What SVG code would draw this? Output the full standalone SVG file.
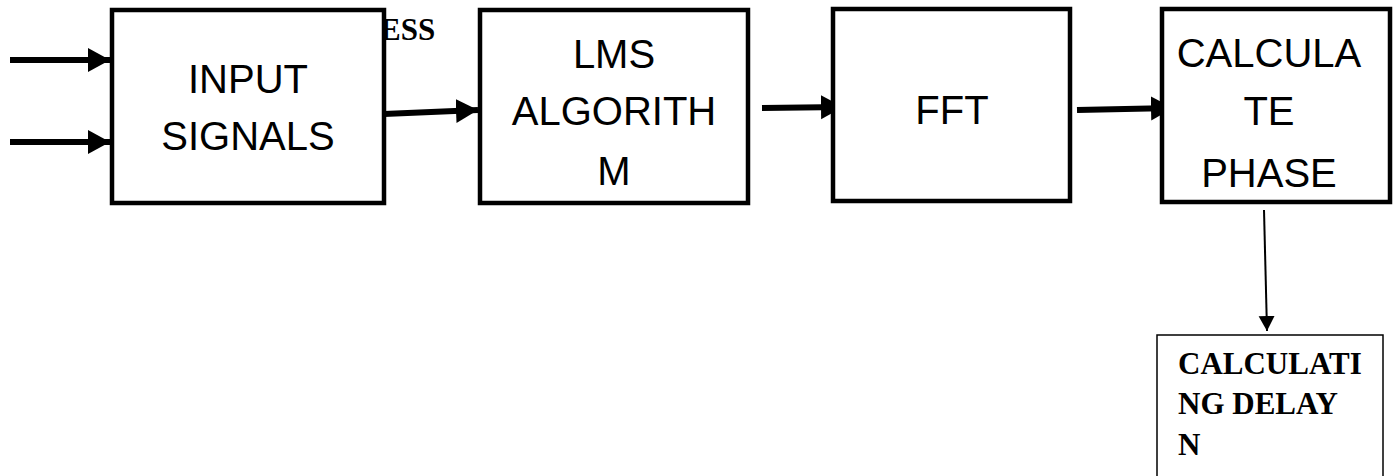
<svg xmlns="http://www.w3.org/2000/svg" width="1399" height="476" viewBox="0 0 1399 476">
  <style>
    .box { fill: #fff; stroke: #000; stroke-width: 4.5; }
    .thin { fill: #fff; stroke: #000; stroke-width: 1.5; }
    .lbl { font-family: "Liberation Sans", Arial, sans-serif; font-size: 40px; fill: #000; text-anchor: middle; }
    .bold { font-family: "Liberation Serif", "Times New Roman", serif; font-weight: bold; font-size: 31px; fill: #000; }
    .thick { stroke: #000; stroke-width: 6; fill: none; marker-end: url(#head); }
    .fine { stroke: #000; stroke-width: 2; fill: none; marker-end: url(#headSmall); }
  </style>
  <defs>
    <marker id="head" markerUnits="userSpaceOnUse" markerWidth="24" markerHeight="26" refX="22" refY="12" orient="auto">
      <path d="M0,0 L22,12 L0,24 Z" fill="#000"/>
    </marker>
    <marker id="headSmall" markerUnits="userSpaceOnUse" markerWidth="18" markerHeight="18" refX="15" refY="8" orient="auto">
      <path d="M0,0 L15,8 L0,16 Z" fill="#000"/>
    </marker>
  </defs>

  <rect width="1399" height="476" fill="#fff"/>

  <!-- stray heading fragment, partly under the first block's border -->
  <text class="bold" x="380" y="40" font-size="33">ESS</text>

  <g id="connectors">
    <line class="thick" x1="10" y1="60" x2="110" y2="60"/>
    <line class="thick" x1="10" y1="142" x2="110" y2="142"/>
    <line class="thick" x1="384" y1="114" x2="478" y2="110"/>
    <line class="thick" x1="762" y1="108" x2="843" y2="107"/>
    <line class="thick" x1="1077" y1="110" x2="1173" y2="108"/>
    <line class="fine" x1="1264" y1="210" x2="1267" y2="331"/>
  </g>

  <g id="input-signals">
    <rect class="box" x="112" y="10" width="272" height="193"/>
    <text class="lbl" x="248" y="93">INPUT</text>
    <text class="lbl" x="248" y="150">SIGNALS</text>
  </g>

  <g id="lms-algorithm">
    <rect class="box" x="480" y="10" width="268" height="193"/>
    <text class="lbl" x="614" y="68">LMS</text>
    <text class="lbl" x="614" y="125">ALGORITH</text>
    <text class="lbl" x="614" y="185">M</text>
  </g>

  <g id="fft">
    <rect class="box" x="833" y="9" width="237" height="192"/>
    <text class="lbl" x="952" y="124">FFT</text>
  </g>

  <g id="calculate-phase">
    <rect class="box" x="1162" y="9" width="228" height="193"/>
    <text class="lbl" x="1269" y="67">CALCULA</text>
    <text class="lbl" x="1269" y="125">TE</text>
    <text class="lbl" x="1269" y="187">PHASE</text>
  </g>

  <g id="calculating-delay">
    <rect class="thin" x="1157" y="335" width="226" height="160"/>
    <text class="bold" x="1178" y="374">CALCULATI</text>
    <text class="bold" x="1178" y="414">NG DELAY</text>
    <text class="bold" x="1178" y="455">N</text>
  </g>
</svg>
